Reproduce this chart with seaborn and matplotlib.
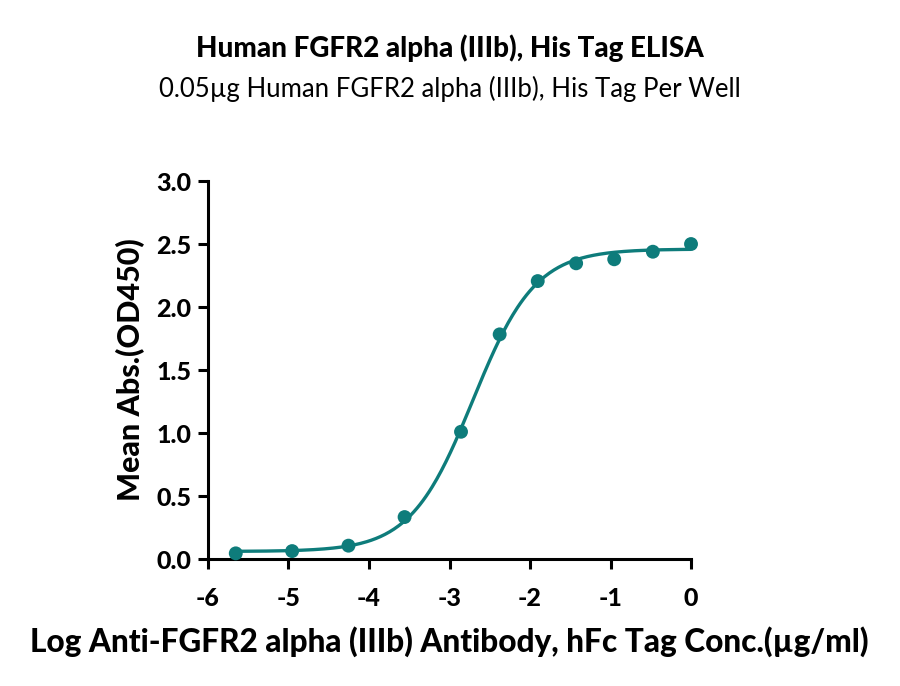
import matplotlib
matplotlib.use("Agg")
import matplotlib.pyplot as plt
import numpy as np
import pandas as pd
import seaborn as sns

# measured points (log10 conc in ug/ml vs mean OD450)
log_conc = [-5.655, -4.955, -4.255, -3.558, -2.857, -2.377, -1.904, -1.427, -0.954, -0.474, 0.0]
od450 = [0.045, 0.063, 0.106, 0.333, 1.01, 1.783, 2.206, 2.347, 2.379, 2.439, 2.50]

# 4PL fit parameters estimated from the reference curve
fit_bottom = 0.06
fit_top = 2.46
fit_logec50 = -2.71
fit_hill = 1.12

x_ticks = [-6, -5, -4, -3, -2, -1, 0]
y_ticks = [0.0, 0.5, 1.0, 1.5, 2.0, 2.5, 3.0]

title = "Human FGFR2 alpha (IIIb), His Tag ELISA"
subtitle = "0.05\u00b5g Human FGFR2 alpha (IIIb), His Tag Per Well"
x_label = "Log Anti-FGFR2 alpha (IIIb) Antibody, hFc Tag Conc.(\u00b5g/ml)"
y_label = "Mean Abs.(OD450)"

color = "#0e7c7b"

sns.set_theme(style="ticks")
plt.rcParams["font.family"] = ["Lato", "DejaVu Sans"]
plt.rcParams["text.color"] = "black"
plt.rcParams["axes.labelcolor"] = "black"

points = pd.DataFrame({"log_conc": log_conc, "od450": od450})
xs = np.linspace(min(log_conc), max(log_conc), 300)
fit = pd.DataFrame({
    "log_conc": xs,
    "od450": fit_bottom + (fit_top - fit_bottom) / (1 + 10 ** ((fit_logec50 - xs) * fit_hill)),
})

fig = plt.figure(figsize=(9, 6.86), dpi=100)
ax = fig.add_axes([0.2311, 0.1851, 0.5367, 0.551])

sns.lineplot(ax=ax, data=fit, x="log_conc", y="od450", color=color, linewidth=2.4)
sns.scatterplot(ax=ax, data=points, x="log_conc", y="od450", color=color,
                s=100, edgecolor="none", zorder=3, clip_on=False)

ax.set_xlim(-6, 0)
ax.set_ylim(0, 3)
ax.set_xticks(x_ticks)
ax.set_xticklabels([str(t) for t in x_ticks])
ax.set_yticks(y_ticks)
ax.set_yticklabels([f"{t:.1f}" for t in y_ticks])
for s in ("top", "right"):
    ax.spines[s].set_visible(False)
for s in ("left", "bottom"):
    ax.spines[s].set_linewidth(2.2)
    ax.spines[s].set_color("black")
ax.tick_params(width=2.2, length=7, labelsize=18, colors="black", pad=5)
ax.tick_params(axis="x", pad=13)
for lbl in ax.get_xticklabels() + ax.get_yticklabels():
    lbl.set_fontweight("black")

ax.set_xlabel(x_label, fontsize=22.7, fontweight="black", labelpad=12)
ax.set_ylabel(y_label, fontsize=22, fontweight="black", labelpad=8)

fig.text(0.5, 0.930, title, ha="center", va="center", fontsize=20, fontweight="black")
fig.text(0.5, 0.871, subtitle, ha="center", va="center", fontsize=18.5)

fig.savefig("out.png", dpi=100)
